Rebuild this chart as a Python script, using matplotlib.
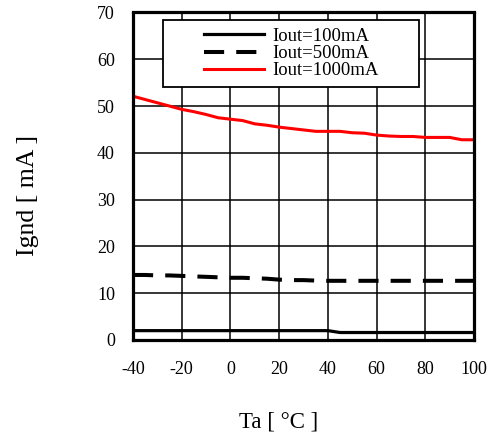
import numpy as np
import matplotlib.pyplot as plt
from matplotlib.patches import Rectangle

plt.rcParams['font.family'] = ['Liberation Serif', 'DejaVu Serif']
plt.rcParams['axes.unicode_minus'] = False

# Ambient temperature [deg C]
ta = [-40, -35, -30, -25, -20, -15, -10, -5, 0, 5, 10, 15, 20, 25, 30,
      35, 40, 45, 50, 55, 60, 65, 70, 75, 80, 85, 90, 95, 100]

# Ground current [mA]
ignd_100 = [2.0, 2.0, 2.0, 2.0, 2.0, 2.0, 2.0, 2.0, 2.0, 2.0, 2.0, 2.0, 2.0, 2.0, 2.0,
            2.0, 2.0, 1.6, 1.6, 1.6, 1.6, 1.6, 1.6, 1.6, 1.6, 1.6, 1.6, 1.6, 1.6]
ignd_500 = [13.9, 13.9, 13.8, 13.8, 13.7, 13.6, 13.5, 13.4, 13.3, 13.3, 13.2, 13.1, 12.9, 12.8, 12.8,
            12.7, 12.65, 12.65, 12.65, 12.65, 12.65, 12.65, 12.65, 12.65, 12.65, 12.65, 12.65, 12.65, 12.65]
ignd_1000 = [52.1, 51.4, 50.7, 50.0, 49.3, 48.8, 48.2, 47.5, 47.2, 46.9, 46.2, 45.9, 45.5, 45.2, 44.9,
             44.6, 44.6, 44.6, 44.3, 44.2, 43.8, 43.6, 43.5, 43.5, 43.3, 43.3, 43.3, 42.8, 42.8]

series_labels = ['Iout=100mA', 'Iout=500mA', 'Iout=1000mA']

fig = plt.figure(figsize=(4.92, 4.38), dpi=100)
ax = fig.add_axes([133 / 492, 1 - 340 / 438, 341 / 492, 327.5 / 438])

ax.plot(ta, ignd_100, color='black', lw=2.3, label=series_labels[0], zorder=3)
ax.plot(ta, ignd_500, color='black', lw=2.9, dashes=(5, 3), label=series_labels[1], zorder=3)
ax.plot(ta, ignd_1000, color='red', lw=2.2, label=series_labels[2], zorder=3)

ax.set_xlim(-40, 100)
ax.set_ylim(0, 70)
ax.set_xticks(np.arange(-40, 101, 20))
ax.set_yticks(np.arange(0, 71, 10))
ax.grid(True, color='black', lw=1.1)
ax.tick_params(length=0, labelsize=13, pad=13)
ax.tick_params(axis='x', pad=15)
for sp in ax.spines.values():
    sp.set_linewidth(2.3)
    sp.set_zorder(6)

ax.set_xlabel('Ta [ °C ]', fontsize=16.5)
ax.set_ylabel('Ignd [ mA ]', fontsize=18.5)
ax.xaxis.set_label_coords(0.428, -0.218)
ax.yaxis.set_label_coords(-0.276, 0.44)

# legend box (white, covers the grid)
ax.add_patch(Rectangle((0.088, 0.771), 0.751, 0.205, transform=ax.transAxes,
                       facecolor='white', edgecolor='black', lw=1.3, zorder=4))
leg = ax.legend(loc='upper left', bbox_to_anchor=(0.208, 0.953), fontsize=13.5,
                frameon=False, handlelength=3.2, borderpad=0, labelspacing=0.0,
                handletextpad=0.45, borderaxespad=0)
leg.set_zorder(5)

fig.savefig('out.png', dpi=100)
